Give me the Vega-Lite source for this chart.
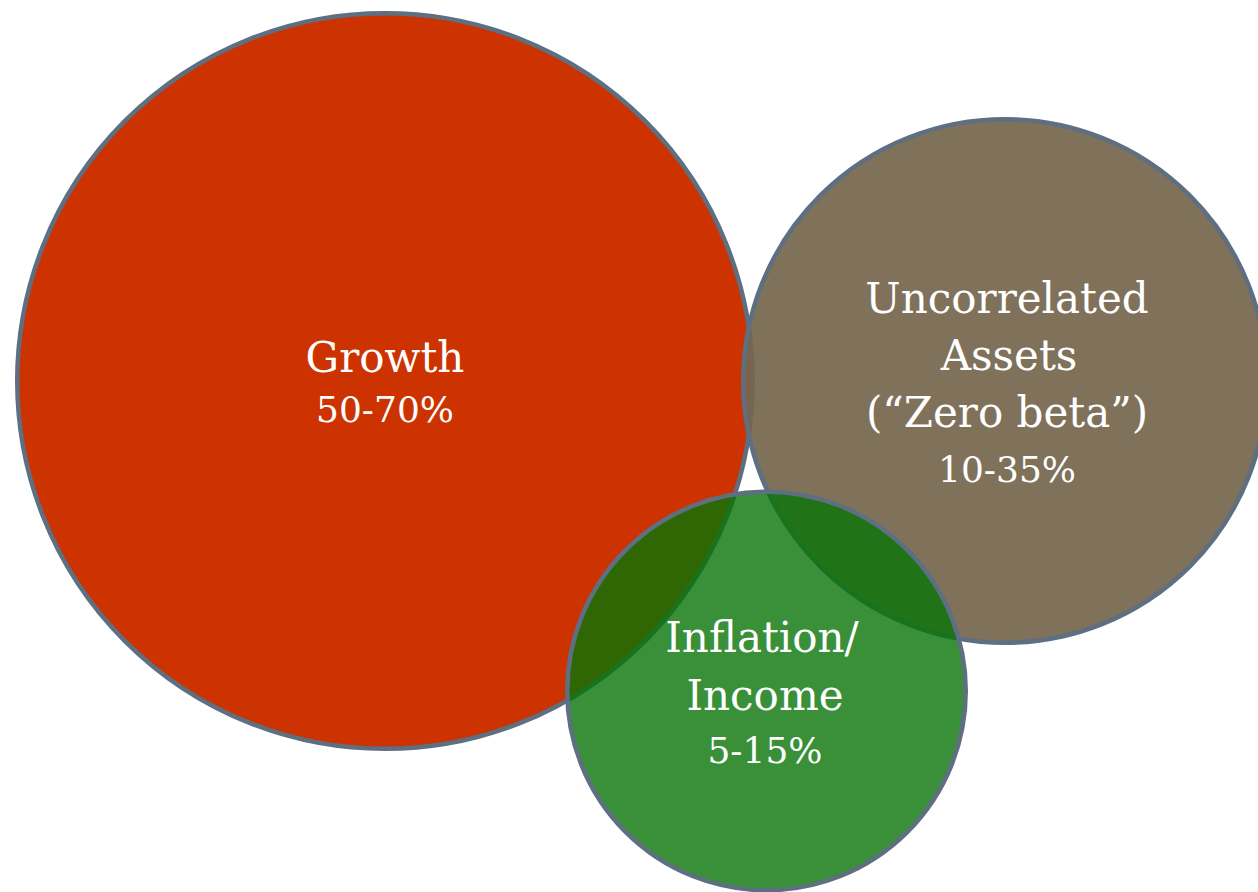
{
  "$schema": "https://vega.github.io/schema/vega-lite/v6.json",
  "width": 1258,
  "height": 892,
  "autosize": {"type": "none"},
  "padding": 0,
  "background": "#ffffff",
  "config": {"view": {"stroke": null}},
  "datasets": {
    "circles": [
      {"name": "Growth", "cx": 385, "cy": 381, "r": 367.75},
      {"name": "Uncorrelated Assets", "cx": 1005, "cy": 381, "r": 261.75},
      {"name": "Inflation/Income", "cx": 766.5, "cy": 691, "r": 199.25}
    ],
    "labels": [
      {"group": "Growth", "kind": "title", "text": "Growth", "lx": 385, "ly": 372},
      {"group": "Growth", "kind": "pct", "text": "50-70%", "lx": 385, "ly": 422},
      {"group": "Uncorrelated Assets", "kind": "title", "text": "Uncorrelated", "lx": 1007, "ly": 313},
      {"group": "Uncorrelated Assets", "kind": "title", "text": "Assets", "lx": 1009, "ly": 370},
      {"group": "Uncorrelated Assets", "kind": "title", "text": "(“Zero beta”)", "lx": 1007, "ly": 427},
      {"group": "Uncorrelated Assets", "kind": "pct", "text": "10-35%", "lx": 1007, "ly": 482},
      {"group": "Inflation/Income", "kind": "title", "text": "Inflation/", "lx": 762, "ly": 652},
      {"group": "Inflation/Income", "kind": "title", "text": "Income", "lx": 765, "ly": 710},
      {"group": "Inflation/Income", "kind": "pct", "text": "5-15%", "lx": 765, "ly": 763}
    ]
  },
  "encoding": {
    "x": {"type": "quantitative", "scale": {"domain": [0, 1258]}, "axis": null},
    "y": {"type": "quantitative", "scale": {"domain": [0, 892], "reverse": true}, "axis": null}
  },
  "layer": [
    {
      "data": {"name": "circles"},
      "transform": [{"filter": "datum.name === 'Growth'"}],
      "mark": {"type": "point", "shape": "circle", "filled": true, "opacity": 1, "fill": "#cc3300", "fillOpacity": 1, "stroke": "#5d6f80", "strokeWidth": 4.5, "strokeOpacity": 1},
      "encoding": {
        "x": {"field": "cx", "type": "quantitative"},
        "y": {"field": "cy", "type": "quantitative"},
        "size": {"field": "r", "type": "quantitative", "scale": {"type": "pow", "exponent": 2, "domain": [0, 400], "range": [0, 640000]}, "legend": null}
      }
    },
    {
      "data": {"name": "circles"},
      "transform": [{"filter": "datum.name === 'Uncorrelated Assets'"}],
      "mark": {"type": "point", "shape": "circle", "filled": true, "opacity": 1, "fill": "#76664f", "fillOpacity": 0.93, "stroke": "#5d6f80", "strokeWidth": 4.5, "strokeOpacity": 1},
      "encoding": {
        "x": {"field": "cx", "type": "quantitative"},
        "y": {"field": "cy", "type": "quantitative"},
        "size": {"field": "r", "type": "quantitative", "scale": {"type": "pow", "exponent": 2, "domain": [0, 400], "range": [0, 640000]}, "legend": null}
      }
    },
    {
      "data": {"name": "circles"},
      "transform": [{"filter": "datum.name === 'Inflation/Income'"}],
      "mark": {"type": "point", "shape": "circle", "filled": true, "opacity": 1, "fill": "#077406", "fillOpacity": 0.8, "stroke": "#5d6f80", "strokeWidth": 4.5, "strokeOpacity": 1},
      "encoding": {
        "x": {"field": "cx", "type": "quantitative"},
        "y": {"field": "cy", "type": "quantitative"},
        "size": {"field": "r", "type": "quantitative", "scale": {"type": "pow", "exponent": 2, "domain": [0, 400], "range": [0, 640000]}, "legend": null}
      }
    },
    {
      "data": {"name": "labels"},
      "transform": [{"filter": "datum.kind === 'title'"}],
      "mark": {"type": "text", "font": "DejaVu Serif", "fontSize": 42, "color": "#ffffff", "align": "center", "baseline": "alphabetic"},
      "encoding": {
        "x": {"field": "lx", "type": "quantitative"},
        "y": {"field": "ly", "type": "quantitative"},
        "text": {"field": "text", "type": "nominal"}
      }
    },
    {
      "data": {"name": "labels"},
      "transform": [{"filter": "datum.kind === 'pct'"}],
      "mark": {"type": "text", "font": "DejaVu Serif", "fontSize": 36, "color": "#ffffff", "align": "center", "baseline": "alphabetic"},
      "encoding": {
        "x": {"field": "lx", "type": "quantitative"},
        "y": {"field": "ly", "type": "quantitative"},
        "text": {"field": "text", "type": "nominal"}
      }
    }
  ]
}
